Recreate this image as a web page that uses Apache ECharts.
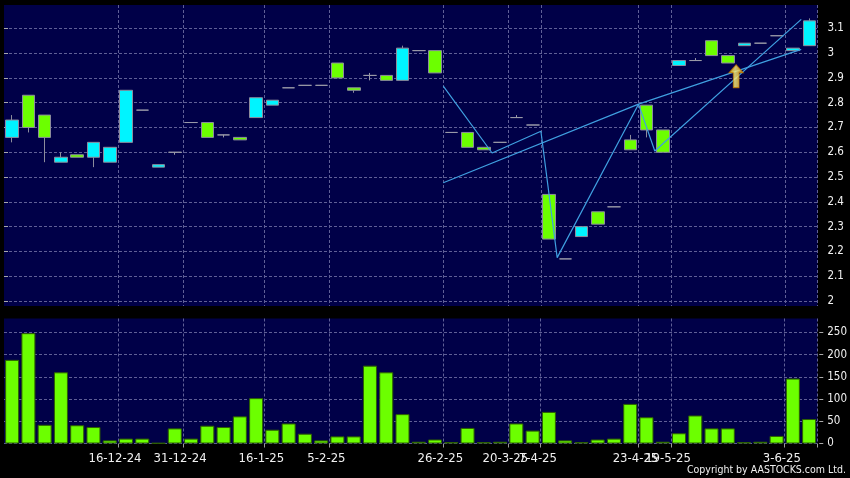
<!DOCTYPE html>
<html><head><meta charset="utf-8">
<script src="https://cdn.jsdelivr.net/npm/echarts@6/dist/echarts.min.js"></script>
<style>html,body{margin:0;padding:0;background:#000;}#c{width:850px;height:478px;}</style>
</head><body><div id="c"></div>
<script>
// Trading dates (d-m-yy)
const dates = ['29-11-24','2-12-24','3-12-24','5-12-24','9-12-24','11-12-24','13-12-24','16-12-24','18-12-24','20-12-24',
  '27-12-24','31-12-24','2-1-25','6-1-25','10-1-25','14-1-25','16-1-25','20-1-25','23-1-25','27-1-25',
  '5-2-25','7-2-25','11-2-25','14-2-25','18-2-25','20-2-25','24-2-25','26-2-25','3-3-25','6-3-25',
  '11-3-25','20-3-25','2-4-25','7-4-25','9-4-25','11-4-25','15-4-25','17-4-25','22-4-25','23-4-25',
  '7-5-25','19-5-25','21-5-25','23-5-25','26-5-25','27-5-25','28-5-25','30-5-25','3-6-25','5-6-25'];
const opens  = [2.66,2.83,2.75,2.56,2.59,2.58,2.56,2.64,2.77,2.54, 2.60,2.72,2.72,2.67,2.66,2.74,2.79,2.86,2.87,2.87,
  2.96,2.86,2.91,2.91,2.89,3.01,3.01,2.68,2.68,2.62, 2.64,2.74,2.71,2.43,2.17,2.26,2.36,2.38,2.65,2.79,
  2.69,2.95,2.97,3.05,2.99,3.03,3.04,3.07,3.01,3.03];
const closes = [2.73,2.70,2.66,2.58,2.58,2.64,2.62,2.85,2.77,2.55, 2.60,2.72,2.66,2.67,2.65,2.82,2.81,2.86,2.87,2.87,
  2.90,2.85,2.91,2.89,3.02,3.01,2.92,2.68,2.62,2.61, 2.64,2.74,2.71,2.25,2.17,2.30,2.31,2.38,2.61,2.69,
  2.60,2.97,2.97,2.99,2.96,3.04,3.04,3.07,3.02,3.13];
const lows   = [2.64,2.68,2.56,2.56,2.58,2.54,2.56,2.64,2.77,2.54, 2.59,2.72,2.66,2.66,2.65,2.74,2.79,2.86,2.87,2.87,
  2.90,2.84,2.89,2.89,2.89,3.01,2.92,2.68,2.62,2.61, 2.64,2.74,2.71,2.25,2.17,2.26,2.31,2.38,2.61,2.66,
  2.60,2.95,2.97,2.99,2.96,3.03,3.04,3.07,3.01,3.03];
const highs  = [2.75,2.83,2.75,2.60,2.59,2.64,2.62,2.85,2.77,2.55, 2.60,2.72,2.72,2.67,2.66,2.82,2.81,2.86,2.87,2.87,
  2.96,2.86,2.92,2.91,3.03,3.01,3.01,2.68,2.68,2.62, 2.64,2.75,2.71,2.43,2.17,2.30,2.36,2.38,2.67,2.79,
  2.69,2.97,2.98,3.05,2.99,3.04,3.04,3.07,3.02,3.14];
const volumes = [188,248,42,160,41,37,7,11,11,1, 34,11,40,37,61,102,31,45,22,7,
  16,16,175,160,66,4,9,3,35,3, 4,45,29,71,7,3,9,11,89,59,
  4,23,63,34,34,3,4,17,146,55];
const priceTicks = [2,2.1,2.2,2.3,2.4,2.5,2.6,2.7,2.8,2.9,3,3.1];
const volumeTicks = [0,50,100,150,200,250];
const labelDates = ['16-12-24','31-12-24','16-1-25','5-2-25','26-2-25','20-3-25','7-4-25','23-4-25','19-5-25','3-6-25'];
// indicator lines (x measured in candle slots from the left edge)
const zigzagX = [27,30,33,34,39,40,49];
const zigzagY = [2.867,2.597,2.685,2.175,2.794,2.605,3.136];
const trendX = [27,39,49];
const trendY = [2.477,2.794,3.015];
const arrowX = [45];
const arrowY = [2.907];

const FONT = "'DejaVu Sans Condensed','DejaVu Sans'";
const gridLine = {show:true,lineStyle:{color:'#5f5f96',width:1,type:[3,2]}};
const isLabel = (i) => labelDates.indexOf(dates[i]) >= 0;

const candleData = opens.map((o,i)=>[o,closes[i],lows[i],highs[i]]);
const zig = zigzagX.map((x,i)=>[x,zigzagY[i]]);
const trend = trendX.map((x,i)=>[x,trendY[i]]);
const arrow = arrowX.map((x,i)=>[x,arrowY[i]]);

const chart = echarts.init(document.getElementById('c'),null,{renderer:'canvas'});
chart.setOption({
  backgroundColor:'#000',
  animation:false,
  grid:[
    {left:4,top:5,width:813.5,height:301,show:true,backgroundColor:'#000048',borderWidth:0},
    {left:4,top:318.5,width:813.5,height:125,show:true,backgroundColor:'#000048',borderWidth:0}
  ],
  xAxis:[
    {type:'category',gridIndex:0,data:dates,boundaryGap:true,axisLine:{show:false},axisTick:{show:false},axisLabel:{show:false},
     splitLine:Object.assign({interval:(i)=>isLabel(i)},gridLine)},
    {type:'category',gridIndex:1,data:dates,boundaryGap:true,axisLine:{show:false},
     axisTick:{show:true,interval:(i)=>isLabel(i),length:4,lineStyle:{color:'#9a9a9a'}},
     axisLabel:{show:true,interval:(i)=>isLabel(i),color:'#f0f0f0',fontSize:13,fontFamily:FONT,margin:9,align:'center',padding:[0,22,0,0]},
     splitLine:Object.assign({interval:(i)=>isLabel(i)},gridLine)},
    {type:'value',gridIndex:0,min:0,max:50,show:false}
  ],
  yAxis:[
    {type:'value',gridIndex:0,position:'right',min:1.98,max:3.194,offset:2,axisLine:{show:false},
     axisTick:{show:true,customValues:priceTicks,length:4,lineStyle:{color:'#aaaaaa'}},
     axisLabel:{customValues:priceTicks,color:'#f0f0f0',fontSize:11.5,fontFamily:FONT,margin:8},
     splitLine:gridLine},
    {type:'value',gridIndex:1,position:'right',min:0,max:281,offset:2,axisLine:{show:false},
     axisTick:{show:true,customValues:volumeTicks,length:4,lineStyle:{color:'#aaaaaa'}},
     axisLabel:{customValues:volumeTicks,color:'#f0f0f0',fontSize:11.5,fontFamily:FONT,margin:8},
     splitLine:gridLine}
  ],
  series:[
    {type:'candlestick',xAxisIndex:0,yAxisIndex:0,data:candleData,barWidth:13,
     itemStyle:{color:'#00f4ff',color0:'#6cff00',borderColor:'#8c8c9c',borderColor0:'#8c8c9c',borderColorDoji:'#9a9aa8',borderWidth:1}},
    {type:'line',xAxisIndex:2,yAxisIndex:0,data:zig,symbol:'none',lineStyle:{color:'#3f9fe0',width:1.2},z:5},
    {type:'line',xAxisIndex:2,yAxisIndex:0,data:trend,symbol:'none',lineStyle:{color:'#3f9fe0',width:1.2},z:5},
    {type:'scatter',xAxisIndex:2,yAxisIndex:0,data:arrow,symbol:'path://M6,0 L12,7 L8.5,7 L8.5,20 L3.5,20 L3.5,7 L0,7 Z',symbolSize:[14,23],z:6,
     itemStyle:{color:new echarts.graphic.LinearGradient(0,0,1,0,[{offset:0,color:'#ffc800'},{offset:0.45,color:'#fff27a'},{offset:1,color:'#f0a000'}]),borderColor:'#c07800',borderWidth:1}},
    {type:'bar',xAxisIndex:1,yAxisIndex:1,data:volumes,barWidth:14,
     itemStyle:{color:'#6cff00',borderColor:'#2e6000',borderWidth:1}}
  ],
  graphic:[
    {type:'text',right:4,top:465,style:{text:'Copyright by AASTOCKS.com Ltd.',fill:'#f0f0f0',font:"10.5px 'DejaVu Sans Condensed','DejaVu Sans'"}}
  ]
});
</script></body></html>
